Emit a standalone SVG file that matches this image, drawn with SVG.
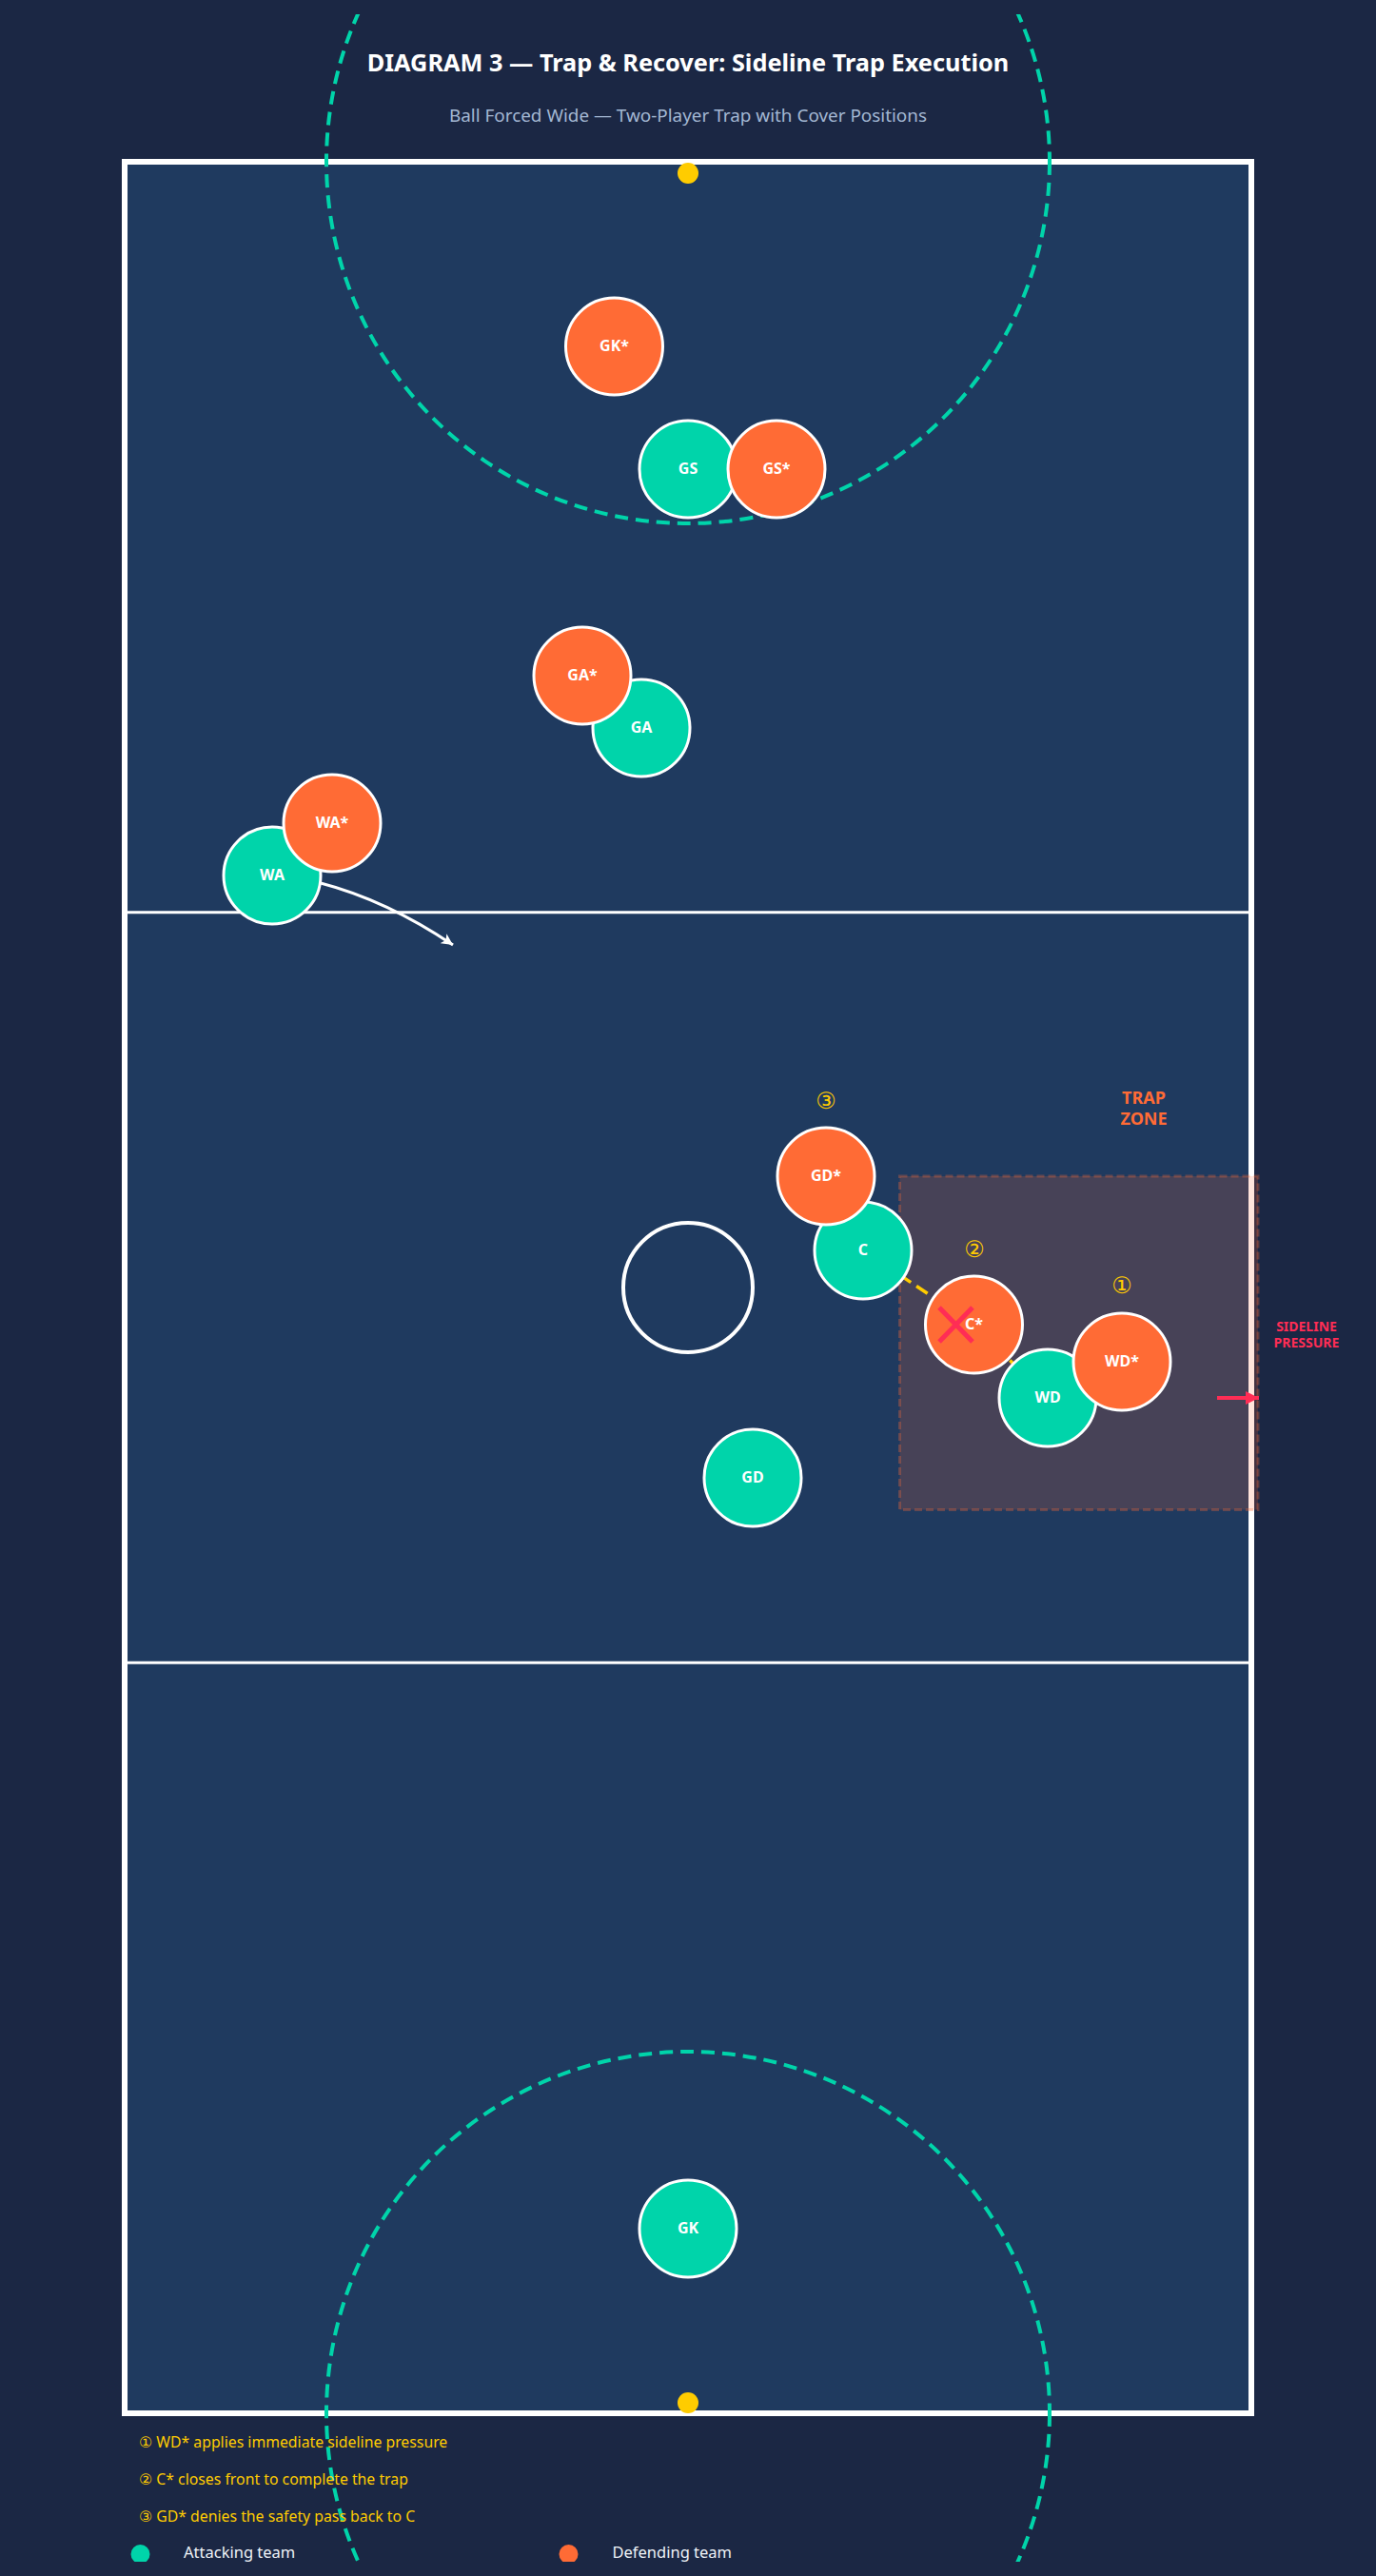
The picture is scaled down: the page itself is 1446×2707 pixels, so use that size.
<svg xmlns="http://www.w3.org/2000/svg" width="1446" height="2707" viewBox="0 0 1446 2707">
<style>
.bg{fill:#1B2744}
.court{fill:#1F3A5F;stroke:#FFFFFF;stroke-width:6}
.third{stroke:#FFFFFF;stroke-width:3}
.goal{fill:none;stroke:#00D4AA;stroke-width:4;stroke-dasharray:14 8}
.ctr{fill:none;stroke:#FFFFFF;stroke-width:4}
.att{fill:#00D4AA;stroke:#FFFFFF;stroke-width:3}
.def{fill:#FF6B35;stroke:#FFFFFF;stroke-width:3}
.lbl{font-family:"Noto Sans","Open Sans",sans-serif;font-size:16px;font-weight:700;fill:#FFFFFF;text-anchor:middle}
.num{font-family:"Noto Sans","DejaVu Sans",sans-serif;font-size:24px;fill:#FFCC00;text-anchor:middle}
.note{font-family:"Noto Sans","DejaVu Sans",sans-serif;font-size:15.8px;fill:#FFCC00}
.leg{font-family:"Noto Sans",sans-serif;font-size:16.5px;fill:#EEF2F7}
</style>
<defs>
<clipPath id="clipv"><rect x="0" y="15" width="1446" height="2677"/></clipPath>
<marker id="ahW" markerUnits="userSpaceOnUse" markerWidth="14" markerHeight="12" refX="12" refY="6" orient="auto"><path d="M0,0 L12,6 L0,12 L3,6 z" fill="#FFFFFF"/></marker>
<marker id="ahR" markerUnits="userSpaceOnUse" markerWidth="16" markerHeight="14" refX="14" refY="7" orient="auto"><path d="M0,0 L14,7 L0,14 z" fill="#FF2D55"/></marker>
</defs>
<rect class="bg" x="0" y="0" width="1446" height="2707"/>
<text x="723" y="75" text-anchor="middle" font-family="'Noto Sans','Open Sans',sans-serif" font-size="25.3" font-weight="700" fill="#FFFFFF">DIAGRAM 3 — Trap &amp; Recover: Sideline Trap Execution</text>
<text x="723" y="128" text-anchor="middle" font-family="'Noto Sans','Open Sans',sans-serif" font-size="18.9" fill="#A3B7D3">Ball Forced Wide — Two-Player Trap with Cover Positions</text>
<g id="court">
<rect class="court" x="131" y="170" width="1184" height="2366"/>
<line class="third" x1="131" y1="958.7" x2="1315" y2="958.7"/>
<line class="third" x1="131" y1="1747.3" x2="1315" y2="1747.3"/>
<circle class="ctr" cx="723" cy="1353" r="68"/>
<g clip-path="url(#clipv)">
<circle class="goal" cx="723" cy="170" r="380"/>
<circle class="goal" cx="723" cy="2536" r="380"/>
</g>
<circle cx="723" cy="182" r="11" fill="#FFCC00"/>
<circle cx="723" cy="2525" r="11" fill="#FFCC00"/>
</g>
<g id="trap-zone">
<rect x="945.5" y="1236" width="376.5" height="350.5" fill="#FF6B35" fill-opacity="0.18" stroke="#FF6B35" stroke-opacity="0.3" stroke-width="3" stroke-dasharray="8 4"/>
<text x="1202" y="1160" text-anchor="middle" font-family="'Noto Sans',sans-serif" font-size="18" font-weight="700" fill="#FF6B35">TRAP</text>
<text x="1202" y="1182" text-anchor="middle" font-family="'Noto Sans',sans-serif" font-size="18" font-weight="700" fill="#FF6B35">ZONE</text>
</g>
<g id="connectors">
<polyline points="1101,1469 1023.5,1392 907,1314" fill="none" stroke="#FFCC00" stroke-width="3.5" stroke-dasharray="14 7"/>
<path d="M337,928 Q406,946 476,993" fill="none" stroke="#FFFFFF" stroke-width="3" marker-end="url(#ahW)"/>
<line x1="1279" y1="1469" x2="1323" y2="1469" stroke="#FF2D55" stroke-width="4" marker-end="url(#ahR)"/>
</g>
<g id="sideline-pressure">
<text x="1373" y="1399" text-anchor="middle" font-family="'Noto Sans',sans-serif" font-size="14" font-weight="700" fill="#FF2D55">SIDELINE</text>
<text x="1373" y="1416" text-anchor="middle" font-family="'Noto Sans',sans-serif" font-size="14" font-weight="700" fill="#FF2D55">PRESSURE</text>
</g>
<g id="attacking">
<g id="GS"><circle class="att" cx="723" cy="493" r="51"/><text class="lbl" x="723" y="497.5">GS</text></g>
<g id="GA"><circle class="att" cx="674" cy="765" r="51"/><text class="lbl" x="674" y="769.5">GA</text></g>
<g id="WA"><circle class="att" cx="286" cy="920" r="51"/><text class="lbl" x="286" y="924.5">WA</text></g>
<g id="C"><circle class="att" cx="907" cy="1314" r="51"/><text class="lbl" x="907" y="1318.5">C</text></g>
<g id="WD"><circle class="att" cx="1101" cy="1469" r="51"/><text class="lbl" x="1101" y="1473.5">WD</text></g>
<g id="GD"><circle class="att" cx="791" cy="1553" r="51"/><text class="lbl" x="791" y="1557.5">GD</text></g>
<g id="GK"><circle class="att" cx="723" cy="2342" r="51"/><text class="lbl" x="723" y="2346.5">GK</text></g>
</g>
<g id="defending">
<g id="GKd"><circle class="def" cx="645.5" cy="364" r="51"/><text class="lbl" x="645.5" y="368.5">GK*</text></g>
<g id="GSd"><circle class="def" cx="816" cy="493" r="51"/><text class="lbl" x="816" y="497.5">GS*</text></g>
<g id="GAd"><circle class="def" cx="612" cy="710" r="51"/><text class="lbl" x="612" y="714.5">GA*</text></g>
<g id="WAd"><circle class="def" cx="349" cy="865" r="51"/><text class="lbl" x="349" y="869.5">WA*</text></g>
<g id="GDd"><circle class="def" cx="868" cy="1236" r="51"/><text class="lbl" x="868" y="1240.5">GD*</text></g>
<g id="Cd"><circle class="def" cx="1023.5" cy="1392" r="51"/><text class="lbl" x="1023.5" y="1396.5">C*</text></g>
<g id="WDd"><circle class="def" cx="1179" cy="1431" r="51"/><text class="lbl" x="1179" y="1435.5">WD*</text></g>
</g>
<g id="intercept">
<line x1="987" y1="1374" x2="1022" y2="1410" stroke="#FF2D55" stroke-width="5"/>
<line x1="987" y1="1410" x2="1022" y2="1374" stroke="#FF2D55" stroke-width="5"/>
</g>
<g id="step-numbers">
<text class="num" x="868" y="1164.5">③</text>
<text class="num" x="1024" y="1320.5">②</text>
<text class="num" x="1179" y="1358.5">①</text>
</g>
<g id="notes">
<text class="note" x="146" y="2572">① WD* applies immediate sideline pressure</text>
<text class="note" x="146" y="2611">② C* closes front to complete the trap</text>
<text class="note" x="146" y="2650">③ GD* denies the safety pass back to C</text>
</g>
<g id="legend">
<g clip-path="url(#clipv)">
<circle cx="147.5" cy="2684" r="10" fill="#00D4AA"/>
<circle cx="597.5" cy="2684" r="10" fill="#FF6B35"/>
</g>
<text class="leg" x="193" y="2688">Attacking team</text>
<text class="leg" x="643.5" y="2688">Defending team</text>
</g>
</svg>
